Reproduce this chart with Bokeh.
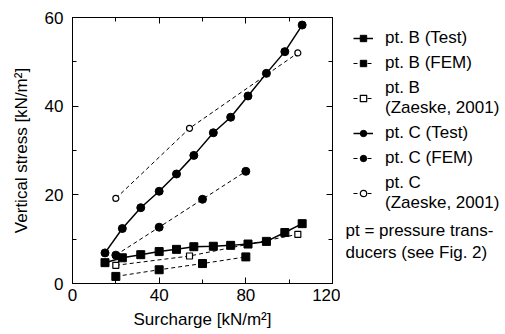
from bokeh.plotting import figure
from bokeh.layouts import row
from bokeh.models import (FixedTicker, LinearAxis, Legend, LegendItem, Label,
                          Range1d, CustomJSTickFormatter)
from bokeh.embed import file_html
from bokeh.resources import INLINE

# ---- data ----
test_x = [15, 23, 31.5, 40, 48, 56, 65, 73, 81, 89.5, 98, 106]
b_test_y = [4.7, 5.8, 6.5, 7.2, 7.7, 8.3, 8.4, 8.6, 8.9, 9.5, 11.5, 13.5]
c_test_y = [6.9, 12.4, 17.1, 20.8, 24.7, 28.9, 34.0, 37.5, 42.3, 47.4, 52.3, 58.3]
fem_x = [20, 40, 60, 80]
b_fem_y = [1.6, 3.1, 4.5, 6.0]
c_fem_y = [6.4, 12.7, 19.0, 25.3]
zaeske_x = [20, 54, 104]
b_zaeske_y = [4.1, 6.2, 11.1]
c_zaeske_y = [19.2, 35.0, 52.0]

labels = ["pt. B (Test)", "pt. B (FEM)", "pt. B\n(Zaeske, 2001)",
          "pt. C (Test)", "pt. C (FEM)", "pt. C\n(Zaeske, 2001)"]
note_lines = ["pt = pressure trans-", "ducers (see Fig. 2)"]

x_ticks = [0, 40, 80, 120]
x_minor = [20, 60, 100]
y_ticks = [0, 20, 40, 60]
y_minor = [10, 30, 50]

FONT = "Liberation Sans"
FS = "17px"

p = figure(width=340, height=334, x_range=Range1d(0, 120), y_range=Range1d(0, 60),
           output_backend="svg", toolbar_location=None,
           min_border_left=72, min_border_right=8, min_border_top=17,
           min_border_bottom=51,
           x_axis_label="Surcharge [kN/m²]", y_axis_label="Vertical stress [kN/m²]")
p.grid.visible = False
p.outline_line_color = "black"
p.outline_line_width = 1
p.background_fill_color = "white"
p.border_fill_color = "white"


def style(ax, ticks, minor):
    ax.ticker = FixedTicker(ticks=ticks, minor_ticks=minor)
    ax.major_tick_in = 6
    ax.major_tick_out = 0
    ax.minor_tick_in = 4
    ax.minor_tick_out = 0
    ax.axis_line_color = "black"
    ax.major_tick_line_color = "black"
    ax.minor_tick_line_color = "black"
    ax.major_label_text_font = FONT
    ax.major_label_text_font_size = FS
    ax.major_label_text_color = "black"
    ax.axis_label_text_font = FONT
    ax.axis_label_text_font_size = FS
    ax.axis_label_text_font_style = "normal"
    ax.axis_label_text_color = "black"


style(p.xaxis[0], x_ticks, x_minor)
style(p.yaxis[0], y_ticks, y_minor)
p.xaxis[0].major_label_standoff = 5
p.xaxis[0].axis_label_standoff = 6
p.yaxis[0].major_label_standoff = 9
p.yaxis[0].axis_label_standoff = 11

ax_r = LinearAxis(formatter=CustomJSTickFormatter(code="return ''"))
style(ax_r, y_ticks, y_minor)
ax_r.major_label_standoff = 0
ax_t = LinearAxis(formatter=CustomJSTickFormatter(code="return ''"))
style(ax_t, x_ticks, x_minor)
ax_t.major_label_standoff = 0
p.add_layout(ax_r, "right")
p.add_layout(ax_t, "above")

STYLES = [
    dict(dash="solid", lw=1.5, marker="square", size=8, fill="black"),
    dict(dash="4 3", lw=1, marker="square", size=8, fill="black"),
    dict(dash="4 3", lw=1, marker="square", size=6, fill="white"),
    dict(dash="solid", lw=1.5, marker="circle", size=8, fill="black"),
    dict(dash="4 3", lw=1, marker="circle", size=8, fill="black"),
    dict(dash="4 3", lw=1, marker="circle", size=6, fill="white"),
]
SERIES = [(test_x, b_test_y), (fem_x, b_fem_y), (zaeske_x, b_zaeske_y),
          (test_x, c_test_y), (fem_x, c_fem_y), (zaeske_x, c_zaeske_y)]


def draw(fig, xs, ys, st, legend_size=None):
    ln = fig.line(xs, ys, line_color="black", line_width=st["lw"], line_dash=st["dash"])
    mk = fig.scatter(xs, ys, marker=st["marker"],
                     size=legend_size if legend_size else st["size"],
                     fill_color=st["fill"], line_color="black",
                     line_width=1.2 if st["fill"] == "white" else 1)
    return [ln, mk]


for (xs, ys), st in zip(SERIES, STYLES):
    draw(p, xs, ys, st)

# ---- legend panel (a second figure; series drawn outside its 0..1 range) ----
p2 = figure(width=165, height=334, x_range=Range1d(0, 1), y_range=Range1d(0, 1),
            output_backend="svg", toolbar_location=None,
            min_border=0, x_axis_location=None, y_axis_location=None)
p2.grid.visible = False
p2.outline_line_color = None
p2.background_fill_color = "white"
p2.border_fill_color = "white"

items = []
for lab, (xs, ys), st in zip(labels, SERIES, STYLES):
    rs = draw(p2, xs, ys, st, legend_size=st["size"] - 1)
    items.append(LegendItem(label=lab, renderers=rs))

legend = Legend(items=items, location=(13, 70))
legend.glyph_width = 20
legend.glyph_height = 16
legend.label_height = 16
legend.label_standoff = 12
legend.spacing = 5
legend.padding = 0
legend.margin = 0
legend.border_line_alpha = 0
legend.background_fill_alpha = 0
legend.label_text_font = FONT
legend.label_text_font_size = FS
legend.label_text_color = "black"
p2.add_layout(legend)

for txt, yy in zip(note_lines, [53, 31]):
    p2.add_layout(Label(x=5, y=yy, x_units="screen", y_units="screen", text=txt,
                        text_baseline="middle", text_font=FONT, text_font_size=FS,
                        text_color="black"))

layout = row(p, p2, spacing=0)
open("out.html", "w").write(file_html(layout, INLINE))
